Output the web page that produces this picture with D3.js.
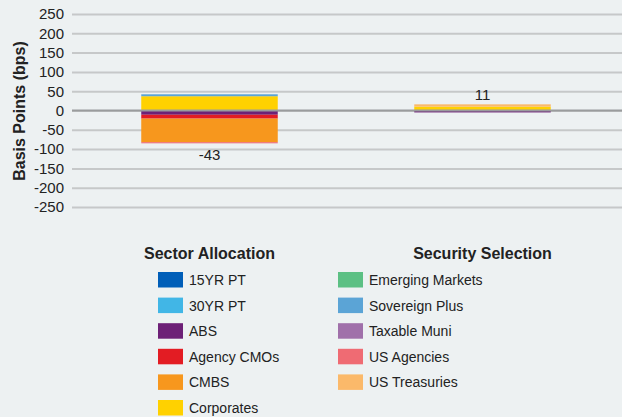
<!DOCTYPE html>
<html>
<head>
<meta charset="utf-8">
<script src="https://cdn.jsdelivr.net/npm/d3@7"></script>
<style>
  html, body { margin: 0; padding: 0; background: #edf1f2; }
  svg { display: block; font-family: "Liberation Sans", Arial, sans-serif; }
</style>
</head>
<body>
<svg id="chart" width="622" height="417"></svg>
<script>
// Attribution categories (x axis)
const categories = ["Sector Allocation", "Security Selection"];

// Series names and colours, in stacking order
const seriesNames = ["15YR PT", "30YR PT", "ABS", "Agency CMOs", "CMBS", "Corporates",
  "Emerging Markets", "Sovereign Plus", "Taxable Muni", "US Agencies", "US Treasuries"];
const seriesColors = ["#005eb8", "#41b6e6", "#6d2077", "#e31c23", "#f7971d", "#ffd100",
  "#5cc084", "#5ba4d6", "#a070aa", "#ef6b73", "#fbb96a"];

// Contribution in basis points, one value per category
const sectorAllocation  = [0, 0, -11, -10, -61, 37, 0, 5, 0, -3, 0];
const securitySelection = [0, 0, -5, 0, 0, 10, 0, 0, 0, 0, 6];

// Net totals shown above/below each stack
const totals = [-43, 11];

const yTicks = [250, 200, 150, 100, 50, 0, -50, -100, -150, -200, -250];

const svg = d3.select("#chart");
const W = 622;

const x = d3.scaleBand().domain(categories).range([73, 619])
  .paddingInner(0.5).paddingOuter(0.25);
const y = d3.scaleLinear().domain([-250, 250]).range([207, 14]);

// Table for the stack layout
const rows = categories.map((c, i) => {
  const r = { category: c };
  const src = i === 0 ? sectorAllocation : securitySelection;
  seriesNames.forEach((s, j) => r[s] = src[j]);
  return r;
});
const stacked = d3.stack().keys(seriesNames).offset(d3.stackOffsetDiverging)(rows);

// Gridlines via the axis generator
const grid = svg.append("g")
  .attr("transform", "translate(72,0)")
  .call(d3.axisRight(y).tickValues(yTicks).tickSize(W - 72).tickFormat(""));
grid.select(".domain").remove();
grid.selectAll(".tick line").attr("stroke", "#c6c8c9").attr("stroke-width", 2);

// Y tick labels (plain hyphen for negatives)
const yAxis = svg.append("g").attr("transform", "translate(72,0)")
  .call(d3.axisLeft(y).tickValues(yTicks).tickSize(0).tickPadding(8).tickFormat(d => String(d)));
yAxis.select(".domain").remove();
yAxis.selectAll("text").attr("font-size", 15).attr("fill", "#222")
  .attr("font-family", "'Liberation Sans', Arial, sans-serif");

// Stacked bars
svg.append("g").selectAll("g").data(stacked).join("g")
  .attr("fill", (d, i) => seriesColors[i])
  .selectAll("rect").data(d => d).join("rect")
  .attr("x", d => x(d.data.category))
  .attr("width", x.bandwidth())
  .attr("y", d => y(Math.max(d[0], d[1])))
  .attr("height", d => Math.abs(y(d[0]) - y(d[1])));

// Zero line drawn over the bars
svg.append("line")
  .attr("x1", 72).attr("x2", W)
  .attr("y1", y(0)).attr("y2", y(0))
  .attr("stroke", "#9a9c9d").attr("stroke-width", 2);

// Net total labels
const extent = categories.map((c, i) => {
  let lo = 0, hi = 0;
  stacked.forEach(s => { lo = Math.min(lo, s[i][0], s[i][1]); hi = Math.max(hi, s[i][0], s[i][1]); });
  return { lo, hi };
});
svg.append("g").selectAll("text").data(totals).join("text")
  .attr("x", (d, i) => x(categories[i]) + x.bandwidth() / 2)
  .attr("y", (d, i) => d < 0 ? y(extent[i].lo) + 17 : y(extent[i].hi) - 4)
  .attr("text-anchor", "middle")
  .attr("font-size", 15).attr("fill", "#222")
  .text(d => String(d));

// Y axis title
svg.append("text")
  .attr("transform", "translate(25,111) rotate(-90)")
  .attr("text-anchor", "middle")
  .attr("font-size", 16).attr("font-weight", "bold").attr("fill", "#222")
  .text("Basis Points (bps)");

// Category labels
svg.append("g").selectAll("text").data(categories).join("text")
  .attr("x", d => x(d) + x.bandwidth() / 2)
  .attr("y", 259)
  .attr("text-anchor", "middle")
  .attr("font-size", 16).attr("font-weight", "bold").attr("fill", "#222")
  .text(d => d);

// Legend: two columns of six and five entries
const legend = svg.append("g").selectAll("g").data(seriesNames).join("g")
  .attr("transform", (d, i) => {
    const col = i < 6 ? 0 : 1;
    const row = i < 6 ? i : i - 6;
    return `translate(${158 + col * 180},${272 + row * 25.6})`;
  });
legend.append("rect").attr("width", 25).attr("height", 15.5)
  .attr("fill", (d, i) => seriesColors[i]);
legend.append("text").attr("x", 31).attr("y", 13)
  .attr("font-size", 14).attr("fill", "#222")
  .text(d => d);
</script>
</body>
</html>
